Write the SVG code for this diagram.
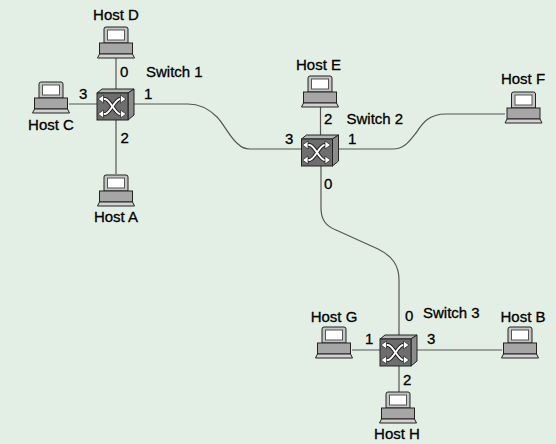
<svg xmlns="http://www.w3.org/2000/svg" xmlns:xlink="http://www.w3.org/1999/xlink" width="556" height="444" viewBox="0 0 556 444">
<style>
.lbl{font-family:"Liberation Sans",Arial,sans-serif;font-size:15px;fill:#000;stroke:#000;stroke-width:0.3}
.c{text-anchor:middle}
.wire{fill:none;stroke:#555;stroke-width:1.2}
</style>
<defs>
<g id="host">
<path d="M-12,16 V2 Q-12,0 -10,0 H10 Q12,0 12,2 V16 Z" fill="#c4c4c4" stroke="#222" stroke-width="1"/>
<rect x="-8.5" y="3" width="17" height="10" fill="#fff" stroke="#555" stroke-width="1"/>
<rect x="-16.5" y="16" width="33" height="11" fill="#a6a6a6" stroke="#222" stroke-width="1"/>
<path d="M-16.5,27 H16.5 L18.5,31 H-18.5 Z" fill="#d2d2d2" stroke="#222" stroke-width="1"/>
</g>
<g id="switch">
<path d="M-19,-11 L-14,-15 H18 L12,-11 Z" fill="#b4b4b4" stroke="#222" stroke-width="1"/>
<path d="M12,-11 L18,-15 V11 L12,16 Z" fill="#8c8c8c" stroke="#222" stroke-width="1"/>
<rect x="-19" y="-11" width="31" height="27" fill="#6e6e6e" stroke="#222" stroke-width="1"/>
<g fill="none" stroke="#222" stroke-width="4">
<path d="M-14,-5 H-11 C-6,-5 -1,10 4,10 H7"/>
<path d="M-14,10 H-11 C-6,10 -1,-5 4,-5 H7"/>
</g>
<g fill="none" stroke="#fff" stroke-width="2">
<path d="M-14,-5 H-11 C-6,-5 -1,10 4,10 H7"/>
<path d="M-14,10 H-11 C-6,10 -1,-5 4,-5 H7"/>
</g>
<g fill="#fff" stroke="#222" stroke-width="0.7">
<path d="M-18,-5 L-12.5,-9 V-1 Z"/>
<path d="M-18,10 L-12.5,6 V14 Z"/>
<path d="M10,-5 L4.5,-9 V-1 Z"/>
<path d="M10,10 L4.5,6 V14 Z"/>
</g>
</g>
</defs>
<rect width="556" height="444" fill="#e3efe5"/>
<g id="connectors">
<path class="wire" d="M116,58 V174"/>
<path class="wire" d="M69,104 H188 C200,104 210,110 217,117 C224,124 230,138 238,144 C242,148 246,149 250,149 H393 C405,149 410,140 416,133 C422,124 428,114 446,114 H505"/>
<path class="wire" d="M320.5,106 V150"/>
<path class="wire" d="M321,150 V208 C321,220 326,226 336,230 L378,249 C392,256 399,265 399,280 V392"/>
<path class="wire" d="M352,350 H502"/>
</g>
<g id="host-d"><use xlink:href="#host" x="116" y="27"/><text class="lbl c" x="116" y="20">Host D</text></g>
<g id="host-c"><use xlink:href="#host" x="51" y="82"/><text class="lbl c" x="51" y="130">Host C</text></g>
<g id="host-a"><use xlink:href="#host" x="116" y="175"/><text class="lbl c" x="116" y="222">Host A</text></g>
<g id="host-e"><use xlink:href="#host" x="320" y="76"/><text class="lbl c" x="318.5" y="70">Host E</text></g>
<g id="host-f"><use xlink:href="#host" x="523.5" y="92"/><text class="lbl c" x="523" y="84">Host F</text></g>
<g id="host-g"><use xlink:href="#host" x="334" y="327"/><text class="lbl c" x="334" y="322">Host G</text></g>
<g id="host-b"><use xlink:href="#host" x="520" y="327"/><text class="lbl c" x="523" y="322">Host B</text></g>
<g id="host-h"><use xlink:href="#host" x="398" y="392"/><text class="lbl c" x="397" y="439">Host H</text></g>
<g id="switch-1"><use xlink:href="#switch" x="116" y="104"/>
<text class="lbl" x="146" y="77">Switch 1</text>
<text class="lbl" x="120" y="77">0</text><text class="lbl" x="144" y="99">1</text>
<text class="lbl" x="120.5" y="143">2</text><text class="lbl" x="79" y="99">3</text></g>
<g id="switch-2"><use xlink:href="#switch" x="320.5" y="150"/>
<text class="lbl" x="346.5" y="124">Switch 2</text>
<text class="lbl" x="324" y="189">0</text><text class="lbl" x="348" y="144">1</text>
<text class="lbl" x="324" y="124">2</text><text class="lbl" x="285" y="144">3</text></g>
<g id="switch-3"><use xlink:href="#switch" x="399" y="350"/>
<text class="lbl" x="423" y="318">Switch 3</text>
<text class="lbl" x="405" y="321">0</text><text class="lbl" x="365" y="344">1</text>
<text class="lbl" x="403" y="385">2</text><text class="lbl" x="427" y="344">3</text></g>
</svg>
